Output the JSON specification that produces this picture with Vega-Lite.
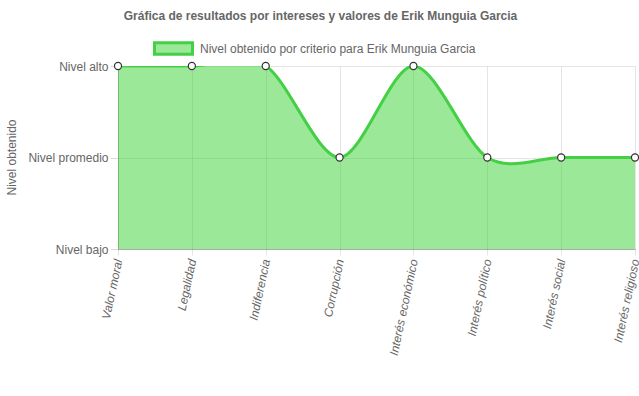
{
  "$schema": "https://vega.github.io/schema/vega-lite/v6.json",
  "autosize": "none",
  "width": 517,
  "height": 183,
  "padding": {"left": 118, "top": 66, "right": 4, "bottom": 147},
  "background": "white",
  "title": {
    "text": "Gráfica de resultados por intereses y valores de Erik Munguia Garcia",
    "font": "Liberation Sans",
    "fontSize": 12,
    "fontWeight": "bold",
    "color": "#666666",
    "anchor": "middle",
    "dx": -56,
    "offset": 5
  },
  "config": {
    "view": {"stroke": null},
    "font": "Liberation Sans"
  },
  "data": {
    "values": [
      {"criterio": "Valor moral", "nivel": 2, "serie": "Nivel obtenido por criterio para Erik Munguia Garcia"},
      {"criterio": "Legalidad", "nivel": 2, "serie": "Nivel obtenido por criterio para Erik Munguia Garcia"},
      {"criterio": "Indiferencia", "nivel": 2, "serie": "Nivel obtenido por criterio para Erik Munguia Garcia"},
      {"criterio": "Corrupción", "nivel": 1, "serie": "Nivel obtenido por criterio para Erik Munguia Garcia"},
      {"criterio": "Interés económico", "nivel": 2, "serie": "Nivel obtenido por criterio para Erik Munguia Garcia"},
      {"criterio": "Interés político", "nivel": 1, "serie": "Nivel obtenido por criterio para Erik Munguia Garcia"},
      {"criterio": "Interés social", "nivel": 1, "serie": "Nivel obtenido por criterio para Erik Munguia Garcia"},
      {"criterio": "Interés religioso", "nivel": 1, "serie": "Nivel obtenido por criterio para Erik Munguia Garcia"}
    ]
  },
  "encoding": {
    "x": {
      "field": "criterio",
      "type": "nominal",
      "sort": null,
      "scale": {"type": "point", "padding": 0},
      "axis": {
        "title": null,
        "labelAngle": -78,
        "labelFontStyle": "italic",
        "labelFontSize": 12,
        "labelColor": "#666666",
        "labelPadding": 4,
        "tickSize": 6,
        "tickColor": "rgba(0,0,0,0.1)",
        "gridColor": "rgba(0,0,0,0.1)",
        "grid": true,
        "domainColor": "rgba(0,0,0,0.25)"
      }
    },
    "y": {
      "field": "nivel",
      "type": "quantitative",
      "scale": {"domain": [0, 2], "nice": false},
      "axis": {
        "values": [0, 1, 2],
        "labelExpr": "datum.value == 2 ? 'Nivel alto' : datum.value == 1 ? 'Nivel promedio' : 'Nivel bajo'",
        "labelFontSize": 12,
        "labelColor": "#666666",
        "labelPadding": 2,
        "tickSize": 8,
        "tickColor": "rgba(0,0,0,0.15)",
        "gridColor": "rgba(0,0,0,0.1)",
        "domainColor": "rgba(0,0,0,0.25)",
        "title": "Nivel obtenido",
        "titleFontSize": 12,
        "titleFontWeight": "normal",
        "titleColor": "#666666",
        "titleX": -107,
        "titleY": 91,
        "titleAngle": -90,
        "titleAlign": "center",
        "titleBaseline": "middle"
      }
    }
  },
  "layer": [
    {
      "mark": {"type": "area", "interpolate": "cardinal", "tension": 0.08, "clip": true, "opacity": 0.5},
      "encoding": {
        "fill": {
          "field": "serie",
          "type": "nominal",
          "scale": {"range": ["#38d131"]},
          "legend": null
        }
      }
    },
    {
      "mark": {"type": "line", "interpolate": "cardinal", "tension": 0.08, "clip": true, "strokeWidth": 3},
      "encoding": {
        "stroke": {
          "field": "serie",
          "type": "nominal",
          "scale": {"range": ["#44d044"]},
          "legend": {
            "title": null,
            "orient": "none",
            "legendX": 35,
            "legendY": -38,
            "symbolType": "M-1,-0.3H1V0.3H-1Z",
            "symbolSize": 1444,
            "symbolStrokeWidth": 3,
            "symbolFillColor": "#9be898",
            "labelFontSize": 12,
            "labelColor": "#666666",
            "labelOffset": 6,
            "labelLimit": 500,
            "encode": {
              "symbols": {
                "enter": {
                  "fill": {"value": "#9be898"},
                  "fillOpacity": {"value": 1},
                  "strokeWidth": {"value": 3}
                },
                "update": {
                  "fill": {"value": "#9be898"},
                  "fillOpacity": {"value": 1},
                  "strokeWidth": {"value": 3}
                }
              }
            }
          }
        }
      }
    },
    {
      "mark": {"type": "point", "filled": true, "fill": "white", "stroke": "#333333", "strokeWidth": 1.2, "size": 50, "opacity": 1},
      "encoding": {}
    }
  ]
}
